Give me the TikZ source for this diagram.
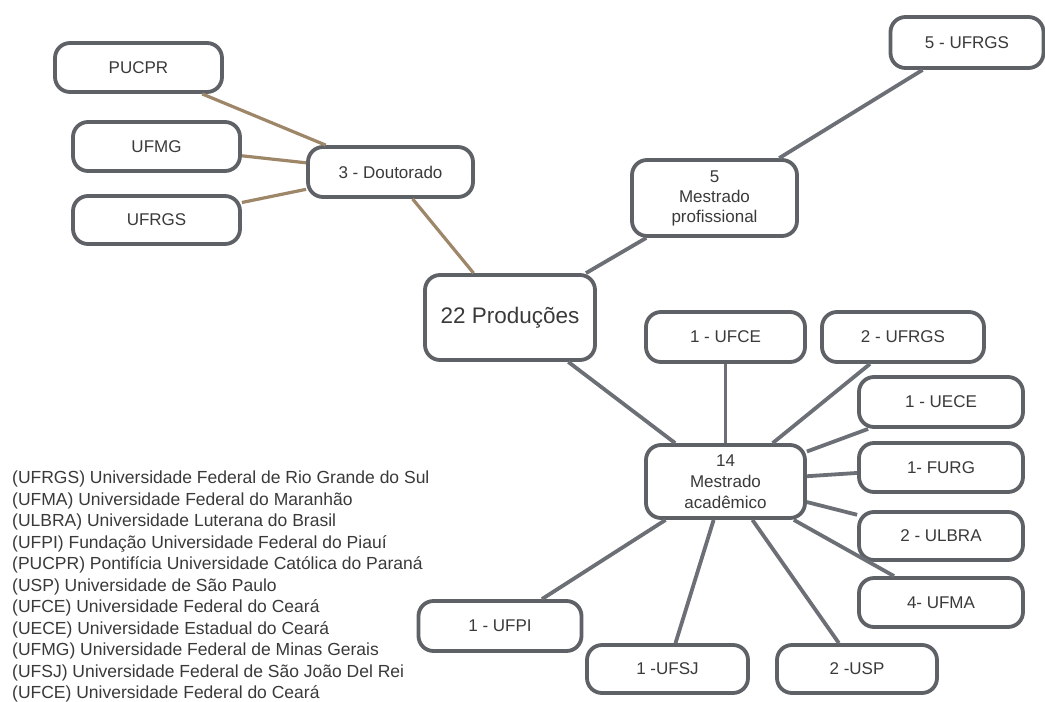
\documentclass[tikz,border=0pt]{standalone}
\usepackage{fontspec}
\setmainfont{Liberation Sans}
\definecolor{boxline}{HTML}{5E6166}
\definecolor{edgegray}{HTML}{6C7076}
\definecolor{edgebrown}{HTML}{9E8668}
\definecolor{txt}{HTML}{3A3A3A}
\begin{document}
\begin{tikzpicture}[x=1pt,y=-1pt,
  box/.style={draw=boxline, line width=3.8pt, rounded corners=15pt, fill=white,
    text=txt, font=\fontsize{17}{20}\selectfont, align=center, inner sep=1pt},
  link/.style={draw=edgegray, line width=3.8pt},
  blink/.style={draw=edgebrown, line width=3.2pt},
  legend/.style={anchor=west, text=txt, inner sep=0pt, font=\fontsize{17.5}{20}\selectfont}]
\useasboundingbox (0,0) rectangle (1045,702);
\fill[white] (0,0) rectangle (1045,702);

% nodes
\node[box, minimum width=167pt, minimum height=49pt] (pucpr) at (138.5,67.5) {PUCPR};
\node[box, minimum width=167pt, minimum height=49pt] (ufmg) at (156.5,146.5) {UFMG};
\node[box, minimum width=167pt, minimum height=48pt] (ufrgsd) at (156.5,220) {UFRGS};
\node[box, minimum width=165pt, minimum height=50pt] (dout) at (390.5,172) {3 - Doutorado};
\node[box, minimum width=170pt, minimum height=85pt, font=\fontsize{22.5}{26}\selectfont] (prod) at (510,317.5) {22 Produções};
\node[box, minimum width=165pt, minimum height=76pt, font=\fontsize{17}{20}\selectfont] (mprof) at (714.5,198) {5\\Mestrado\\profissional};
\node[box, minimum width=153pt, minimum height=51pt] (ufrgs5) at (967,42.5) {5 - UFRGS};
\node[box, minimum width=159pt, minimum height=73pt, font=\fontsize{17}{21}\selectfont] (macad) at (725.5,481.5) {14\\Mestrado\\acadêmico};
\node[box, minimum width=159pt, minimum height=50pt] (ufce) at (725.5,337) {1 - UFCE};
\node[box, minimum width=162pt, minimum height=50pt] (ufrgs2) at (903,337) {2 - UFRGS};
\node[box, minimum width=164pt, minimum height=50pt] (uece) at (941,402) {1 - UECE};
\node[box, minimum width=164pt, minimum height=49pt] (furg) at (941,467.5) {1- FURG};
\node[box, minimum width=164pt, minimum height=48pt] (ulbra) at (941,536) {2 - ULBRA};
\node[box, minimum width=164pt, minimum height=49pt] (ufma) at (941,602.5) {4- UFMA};
\node[box, minimum width=163pt, minimum height=50pt] (ufpi) at (500,626) {1 - UFPI};
\node[box, minimum width=161pt, minimum height=48pt] (ufsj) at (667.5,669) {1 -UFSJ};
\node[box, minimum width=160pt, minimum height=48pt] (usp) at (857,669) {2 -USP};

% connectors
\draw[blink] (pucpr) -- (dout);
\draw[blink] (ufmg) -- (dout);
\draw[blink] (ufrgsd) -- (dout);
\draw[blink] (prod) -- (dout);
\draw[link] (prod) -- (mprof);
\draw[link] (mprof) -- (ufrgs5);
\draw[link] (prod) -- (macad);
\draw[link] (macad) -- (ufce);
\draw[link] (macad) -- (ufrgs2);
\draw[link] (macad) -- (uece);
\draw[link] (macad) -- (furg);
\draw[link] (macad) -- (ulbra);
\draw[link] (macad) -- (ufma);
\draw[link] (macad) -- (ufpi);
\draw[link] (macad) -- (ufsj);
\draw[link] (macad) -- (usp);

% legend
\node[legend] (l1) at (12,479) {(UFRGS) Universidade Federal de Rio Grande do Sul};
\node[legend] (l2) at (12,500.5) {(UFMA) Universidade Federal do Maranhão};
\node[legend] (l3) at (12,522) {(ULBRA) Universidade Luterana do Brasil};
\node[legend] (l4) at (12,543.5) {(UFPI) Fundação Universidade Federal do Piauí};
\node[legend] (l5) at (12,565) {(PUCPR) Pontifícia Universidade Católica do Paraná};
\node[legend] (l6) at (12,586.5) {(USP) Universidade de São Paulo};
\node[legend] (l7) at (12,608) {(UFCE) Universidade Federal do Ceará};
\node[legend] (l8) at (12,629.5) {(UECE) Universidade Estadual do Ceará};
\node[legend] (l9) at (12,651) {(UFMG) Universidade Federal de Minas Gerais};
\node[legend] (l10) at (12,672.5) {(UFSJ) Universidade Federal de São João Del Rei};
\node[legend] (l11) at (12,693.5) {(UFCE) Universidade Federal do Ceará};
\end{tikzpicture}
\end{document}
